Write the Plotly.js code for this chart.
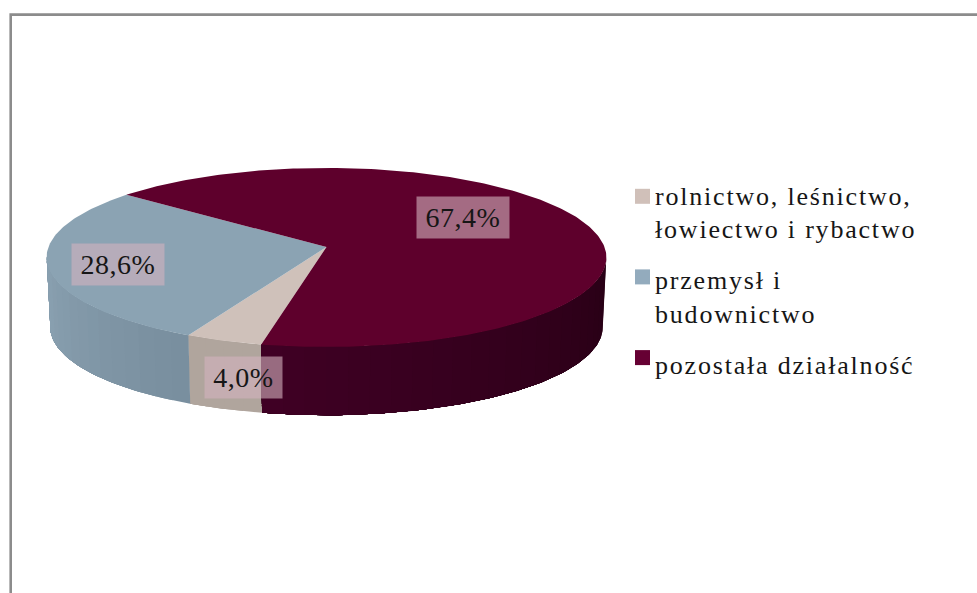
<!DOCTYPE html>
<html>
<head>
<meta charset="utf-8">
<script src="https://cdn.plot.ly/plotly-3.0.1.min.js"></script>
<style>
html,body{margin:0;padding:0;background:#fff;overflow:hidden}
#chart{width:977px;height:593px}
.legendtext{letter-spacing:1.8px}
.annotation-text{letter-spacing:0.5px}
.legend .scrollbox{clip-path:none}
.legend .groups:nth-of-type(1) .legendpoints{transform:translate(7.5px,-15px)}
.legend .groups:nth-of-type(2) .legendpoints{transform:translate(7.5px,-19px)}
.legend .groups:nth-of-type(3) .legendpoints{transform:translate(7.5px,-6px)}
</style>
</head>
<body>
<div id="chart"></div>
<script>
// data
const categories = ["rolnictwo, leśnictwo,<br>łowiectwo i rybactwo", "przemysł i<br>budownictwo", "pozostała działalność"];
const shares = [4.0, 28.6, 67.4];
const topColors = ["#cfc1ba", "#8ba3b3", "#5e002c"];
const legendColors = ["#d0c0b9", "#93abbd", "#660033"];
const sideFrom = ["#b0a59d", "#8ba2b2", "#3f0024"];
const sideTo = ["#b0a59d", "#788e9e", "#280015"];

// projection of the tilted disc
const cx = 326.5, cy = 247, A = 88.3, B = 278, K = 0.117, depth = 69.5, shrink = 0.987;
const startDeg = 192;

function rim(deg, r, lower) {
  const t = deg * Math.PI / 180, u = r * Math.sin(t), v = r * Math.cos(t), w = 1 + K * v;
  const s = lower ? shrink : 1;
  return [cx + s * B * u / w, cy - s * A * v / w + (lower ? depth : 0)];
}
function arc(a, b, lower) {
  const pts = [], n = Math.max(2, Math.ceil(Math.abs(b - a)));
  for (let i = 0; i <= n; i++) pts.push(rim(a + (b - a) * i / n, 1, lower));
  return pts;
}
function mix(c1, c2, f) {
  const p = c => [1, 3, 5].map(i => parseInt(c.substr(i, 2), 16));
  const a = p(c1), b = p(c2);
  return "rgb(" + a.map((x, i) => Math.round(x + (b[i] - x) * f)).join(",") + ")";
}
function poly(points, color) {
  const xs = points.map(p => p[0]), ys = points.map(p => p[1]);
  xs.push(xs[0]); ys.push(ys[0]);
  return {
    type: "scatter", mode: "lines", x: xs, y: ys, fill: "toself", fillcolor: color,
    line: {color: color, width: 0}, hoverinfo: "skip", showlegend: false
  };
}

const total = shares.reduce((a, b) => a + b, 0);
const traces = [], faces = [];
let angle = startDeg;
shares.forEach((val, i) => {
  const a0 = angle, a1 = angle + val / total * 360;
  angle = a1;
  // visible front wall: the wall faces the viewer between about 96 and 264 degrees (mod 360)
  const ranges = [];
  [[96, 264], [456, 624]].forEach(([lo, hi]) => {
    const s = Math.max(a0, lo), e = Math.min(a1, hi);
    if (e > s) ranges.push([s, e, lo]);
  });
  ranges.forEach(([s, e, lo]) => {
    const step = 4, n = Math.ceil((e - s) / step);
    for (let k = 0; k < n; k++) {
      const p = s + (e - s) * k / n, q = s + (e - s) * (k + 1) / n;
      const mid = (p + q) / 2 - lo;
      const f = i === 1 ? (168 - mid) / 58 : 1 - mid / 96;
      traces.push(poly(arc(p, e, false).concat(arc(e, p, true)), mix(sideFrom[i], sideTo[i], Math.max(0, Math.min(1, f)))));
    }
  });
  faces.push(poly([rim(0, 0, false)].concat(arc(a0, a1, false)), topColors[i]));
});

const legendTraces = categories.map((name, i) => ({
  type: "scatter", mode: "markers", x: [-100], y: [-100], name: name, legendgroup: "g" + i,
  marker: {symbol: "square", size: 15, color: legendColors[i]}, hoverinfo: "skip"
}));

// labels
const labelAnchors = [[243.5, 377.5], [118, 264.5], [463, 217.5]];
const labelWidths = [77, 92, 92];
const annotations = shares.map((v, i) => ({
  xref: "x", yref: "y", x: labelAnchors[i][0], y: labelAnchors[i][1],
  text: v.toFixed(1).replace(".", ",") + "%", showarrow: false,
  width: labelWidths[i], height: 41, borderpad: 0, xanchor: "center", yanchor: "middle",
  bgcolor: "rgba(212,178,190,0.6)",
  font: {family: "Liberation Serif, serif", size: 28, color: "#161616"}
}));

const layout = {
  width: 977, height: 593, margin: {l: 0, r: 0, t: 0, b: 0},
  paper_bgcolor: "#ffffff", plot_bgcolor: "#ffffff",
  xaxis: {range: [0, 977], visible: false, fixedrange: true},
  yaxis: {range: [593, 0], visible: false, fixedrange: true},
  shapes: [{type: "rect", xref: "x", yref: "y", x0: 10.7, y0: 14.6, x1: 1100, y1: 800, layer: "below",
            line: {color: "#8c8c8c", width: 2.6}}],
  annotations: annotations,
  hovermode: false,
  legend: {
    x: 615 / 977, y: 1 - 171 / 593, xanchor: "left", yanchor: "top",
    bgcolor: "rgba(0,0,0,0)", borderwidth: 0, tracegroupgap: 14, traceorder: "grouped",
    itemclick: false, itemdoubleclick: false,
    font: {family: "Liberation Serif, serif", size: 26, color: "#161616"}
  }
};

Plotly.newPlot("chart", traces.concat(faces, legendTraces), layout, {displayModeBar: false, staticPlot: true});
</script>
</body>
</html>
